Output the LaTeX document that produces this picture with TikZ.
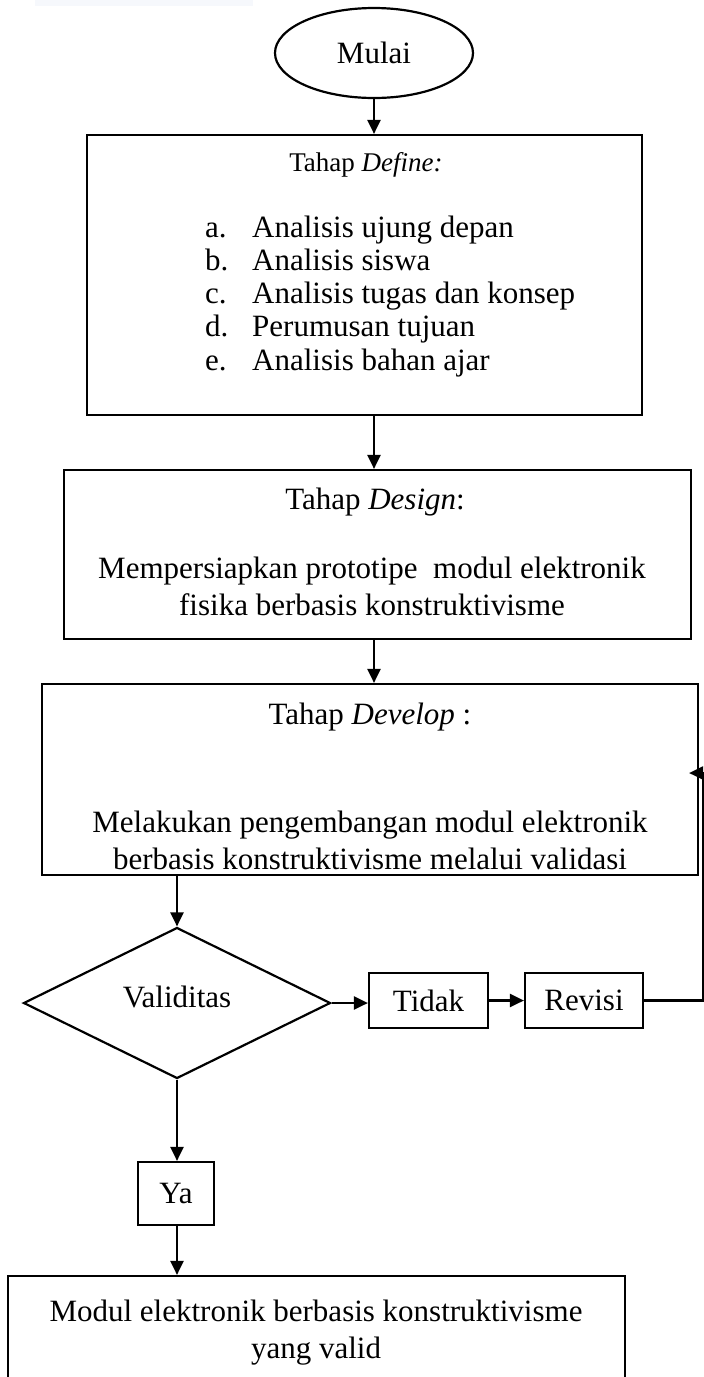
\documentclass[tikz,border=0pt]{standalone}
\usepackage{fontspec}
\setmainfont{Liberation Serif}
\usetikzlibrary{shapes.geometric,arrows.meta}
\definecolor{paleband}{HTML}{F6F8FC}
\begin{document}
\begin{tikzpicture}[x=1pt,y=-1pt,
  every node/.style={font=\fontsize{31}{37}\selectfont},
  frame/.style={draw,line width=2.2pt,rectangle,inner sep=0pt},
  txt/.style={inner sep=0pt},
  arr/.style={line width=2.2pt,-{Triangle[length=14pt,width=13pt]}},
  ln/.style={line width=2.2pt}]
\useasboundingbox (0,0) rectangle (704,1377);
\clip (0,0) rectangle (704,1377);
\fill[paleband] (35,0) rectangle (253,6);

% shapes
\node[draw,line width=2.2pt,ellipse,minimum width=198pt,minimum height=90pt,inner sep=0pt] (start) at (374,53) {};
\node[frame,minimum width=555pt,minimum height=280pt] (define) at (364.5,275) {};
\node[frame,minimum width=627pt,minimum height=169pt] (design) at (377.5,554.5) {};
\node[frame,minimum width=656pt,minimum height=191pt] (develop) at (370,779.5) {};
\node[draw,line width=2.2pt,diamond,minimum width=307pt,minimum height=151pt,inner sep=0pt] (dia) at (177,1003) {};
\node[frame,minimum width=119pt,minimum height=55pt] (tidak) at (428.5,1000.5) {};
\node[frame,minimum width=118pt,minimum height=55pt] (revisi) at (584,1000.5) {};
\node[frame,minimum width=76pt,minimum height=63pt] (ya) at (176,1193.5) {};
\node[frame,minimum width=617pt,minimum height=140pt] (final) at (316.5,1346) {};

% texts
\node[txt] (tstart) at (start) {Mulai};
\node[txt,font=\fontsize{27}{32}\selectfont] (tdef) at (366,165) {Tahap \textit{Define:}};
\foreach \l/\t [count=\i from 0] in {a./Analisis ujung depan, b./Analisis siswa, c./Analisis tugas dan konsep, d./Perumusan tujuan, e./Analisis bahan ajar}{
  \node[txt,anchor=base west] (la\i) at (205,237+33.3*\i) {\l};
  \node[txt,anchor=base west] (lt\i) at (252,237+33.3*\i) {\t};
}
\node[txt] (tdes) at (375,502) {Tahap \textit{Design}:};
\node[txt,align=center] (bdes) at (372,586) {Mempersiapkan prototipe\ \ modul elektronik\\ fisika berbasis konstruktivisme};
\node[txt] (tdev) at (370,717) {Tahap \textit{Develop} :};
\node[txt,align=center] (bdev) at (370,840) {Melakukan pengembangan modul elektronik\\ berbasis konstruktivisme melalui validasi};
\node[txt] (tval) at (177,997) {Validitas};
\node[txt] (ttid) at (tidak) {Tidak};
\node[txt] (trev) at (revisi) {Revisi};
\node[txt] (tya) at (ya) {Ya};
\node[txt,align=center] (tfin) at (316,1333) {Modul elektronik berbasis konstruktivisme\\ yang valid};

% connectors
\coordinate (r1) at (703,1000.5);
\coordinate (r2) at (703,773);
\draw[arr] (start.south) -- (start.south |- define.north);
\draw[arr] (define.south -| start.south) -- (design.north -| start.south);
\draw[arr] (design.south -| start.south) -- (develop.north -| start.south);
\draw[arr] (develop.south -| dia.north) -- (dia.north);
\draw[arr] (dia.east) -- (dia.east -| tidak.west);
\draw[arr] (tidak.east) -- (revisi.west);
\draw[ln] (revisi.east) -- (r1) -- (r2);
\draw[arr] (r2) -- ([xshift=-10pt]r2 -| develop.east);
\draw[arr] (dia.south) -- (dia.south |- ya.north);
\draw[arr] (ya.south -| dia.south) -- (final.north -| dia.south);
\end{tikzpicture}
\end{document}
